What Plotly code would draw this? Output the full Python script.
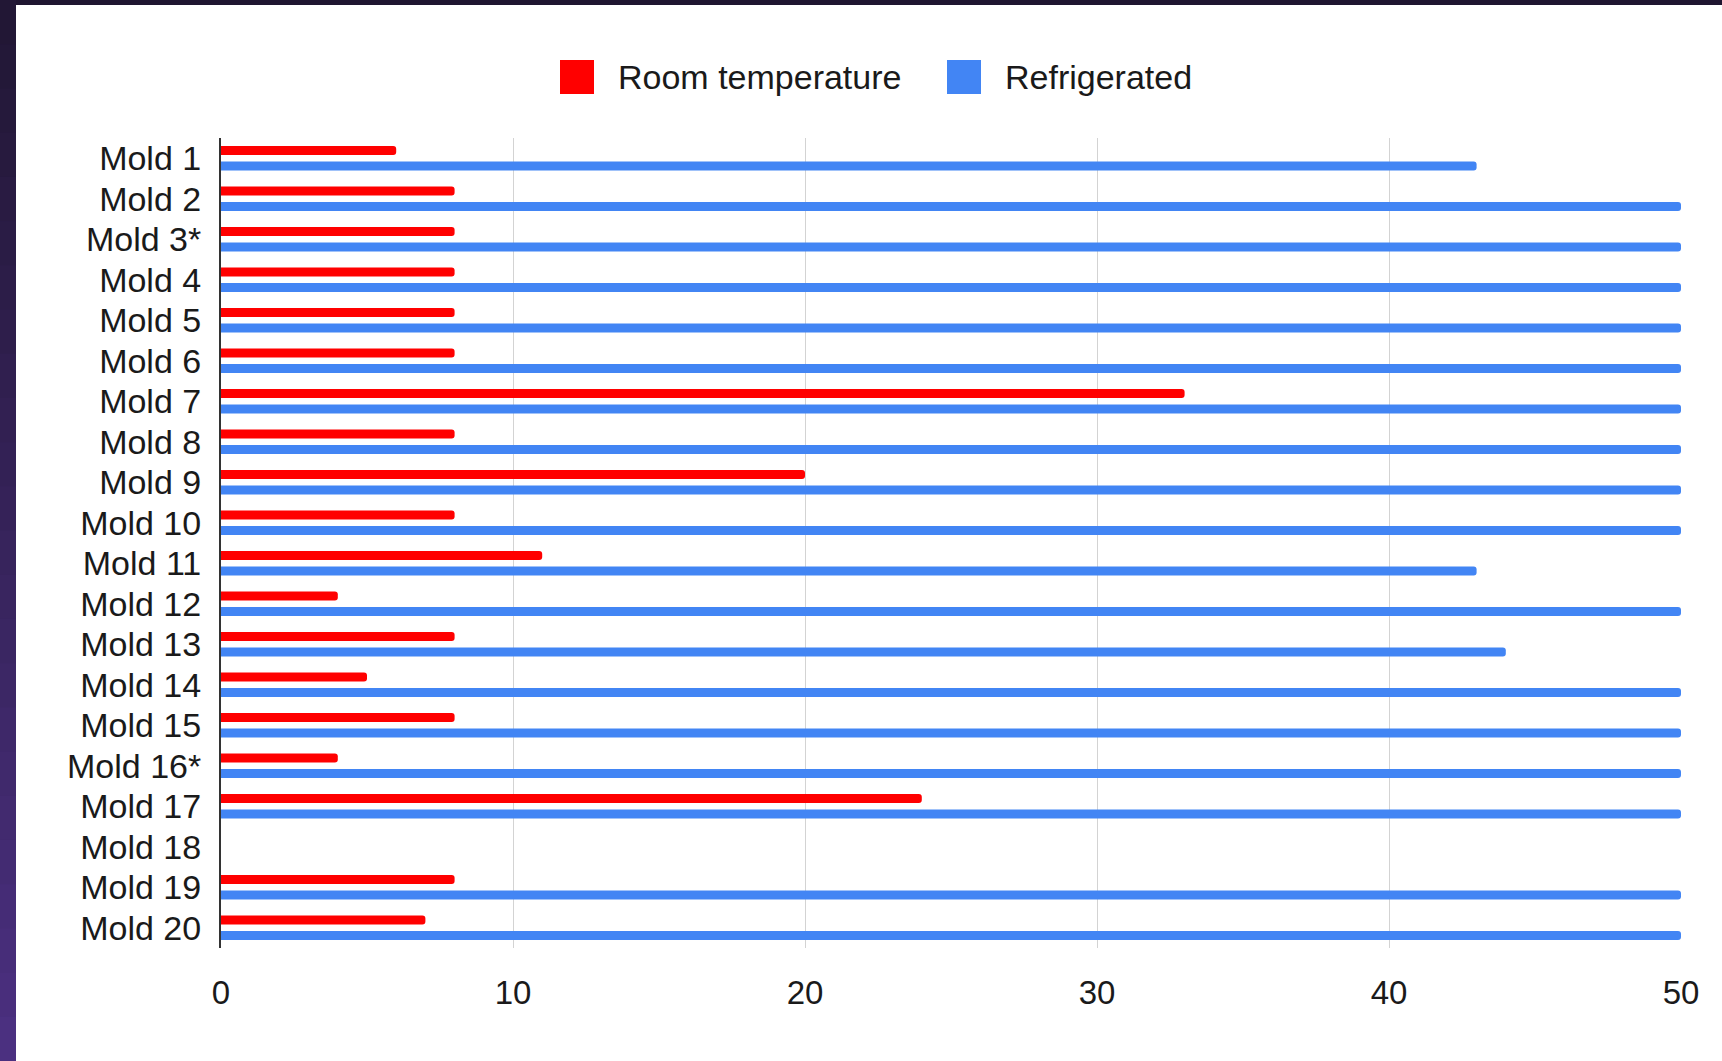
import plotly.graph_objects as go

categories = ["Mold 1", "Mold 2", "Mold 3*", "Mold 4", "Mold 5", "Mold 6", "Mold 7",
              "Mold 8", "Mold 9", "Mold 10", "Mold 11", "Mold 12", "Mold 13", "Mold 14",
              "Mold 15", "Mold 16*", "Mold 17", "Mold 18", "Mold 19", "Mold 20"]
room_temperature = [6, 8, 8, 8, 8, 8, 33, 8, 20, 8, 11, 4, 8, 5, 8, 4, 24, None, 8, 7]
refrigerated = [43, 50, 50, 50, 50, 50, 50, 50, 50, 50, 43, 50, 44, 50, 50, 50, 50, None, 50, 50]
series_names = ["Room temperature", "Refrigerated"]
x_ticks = [0, 10, 20, 30, 40, 50]

RED = "#ff0000"
BLUE = "#4285f4"
FONT = "Liberation Sans, Arial, sans-serif"

W, H = 1722, 1061
ML, MR, MT, MB = 221, 41, 138, 113
PW, PH = W - ML - MR, H - MT - MB

def fx(px):
    return (px - ML) / PW

def fy(py):
    return 1 - (py - MT) / PH

fig = go.Figure()
fig.add_trace(go.Bar(y=categories, x=room_temperature, orientation="h", name=series_names[0],
                     marker=dict(color=RED, line=dict(width=0), cornerradius=3)))
fig.add_trace(go.Bar(y=categories, x=refrigerated, orientation="h", name=series_names[1],
                     marker=dict(color=BLUE, line=dict(width=0), cornerradius=3)))

shapes = []
# dark frame (top and left strips)
shapes.append(dict(type="rect", xref="paper", yref="paper", x0=fx(0), x1=fx(W), y0=fy(0), y1=fy(5),
                   fillcolor="#1f1530", line=dict(width=0), layer="above"))
steps = 24
c0 = (0x22, 0x17, 0x35)
c1 = (0x4b, 0x30, 0x80)
for i in range(steps):
    t = i / (steps - 1)
    c = tuple(int(c0[k] + (c1[k] - c0[k]) * t) for k in range(3))
    y0p = i * H / steps
    y1p = (i + 1) * H / steps
    shapes.append(dict(type="rect", xref="paper", yref="paper", x0=fx(0), x1=fx(16),
                       y0=fy(y1p + 1), y1=fy(y0p), fillcolor="rgb(%d,%d,%d)" % c,
                       line=dict(width=0), layer="above"))

# legend swatches
shapes.append(dict(type="rect", xref="paper", yref="paper", x0=fx(560), x1=fx(594), y0=fy(94), y1=fy(60),
                   fillcolor=RED, line=dict(width=0)))
shapes.append(dict(type="rect", xref="paper", yref="paper", x0=fx(947), x1=fx(981), y0=fy(94), y1=fy(60),
                   fillcolor=BLUE, line=dict(width=0)))

annotations = [
    dict(text=series_names[0], xref="paper", yref="paper", x=fx(616), y=fy(77), xanchor="left",
         yanchor="middle", showarrow=False, font=dict(size=34, color="#1a1a1a", family=FONT)),
    dict(text=series_names[1], xref="paper", yref="paper", x=fx(1003), y=fy(77), xanchor="left",
         yanchor="middle", showarrow=False, font=dict(size=34, color="#1a1a1a", family=FONT)),
]

fig.update_layout(
    width=W, height=H,
    margin=dict(l=ML, r=MR, t=MT, b=MB, pad=0),
    paper_bgcolor="white", plot_bgcolor="white",
    barmode="group", bargap=0.235, bargroupgap=0.42,
    showlegend=False,
    font=dict(family=FONT, size=34, color="#1a1a1a"),
    shapes=shapes, annotations=annotations,
    xaxis=dict(range=[0, 50], tickvals=x_ticks, showgrid=True, gridcolor="#d3d3d3", gridwidth=1,
               zeroline=False, showline=False, ticks="", ticklabelstandoff=22,
               tickfont=dict(size=33, color="#1a1a1a")),
    yaxis=dict(autorange="reversed", showgrid=False, showline=True, linecolor="#333333", linewidth=2,
               tickmode="array", tickvals=categories, ticktext=categories,
               ticks="", ticklabelstandoff=11, tickfont=dict(size=34, color="#1a1a1a")),
)

fig.write_html("out.html", config={"displayModeBar": False},
               post_script="document.body.style.margin='0';document.body.style.background='#221735';")
